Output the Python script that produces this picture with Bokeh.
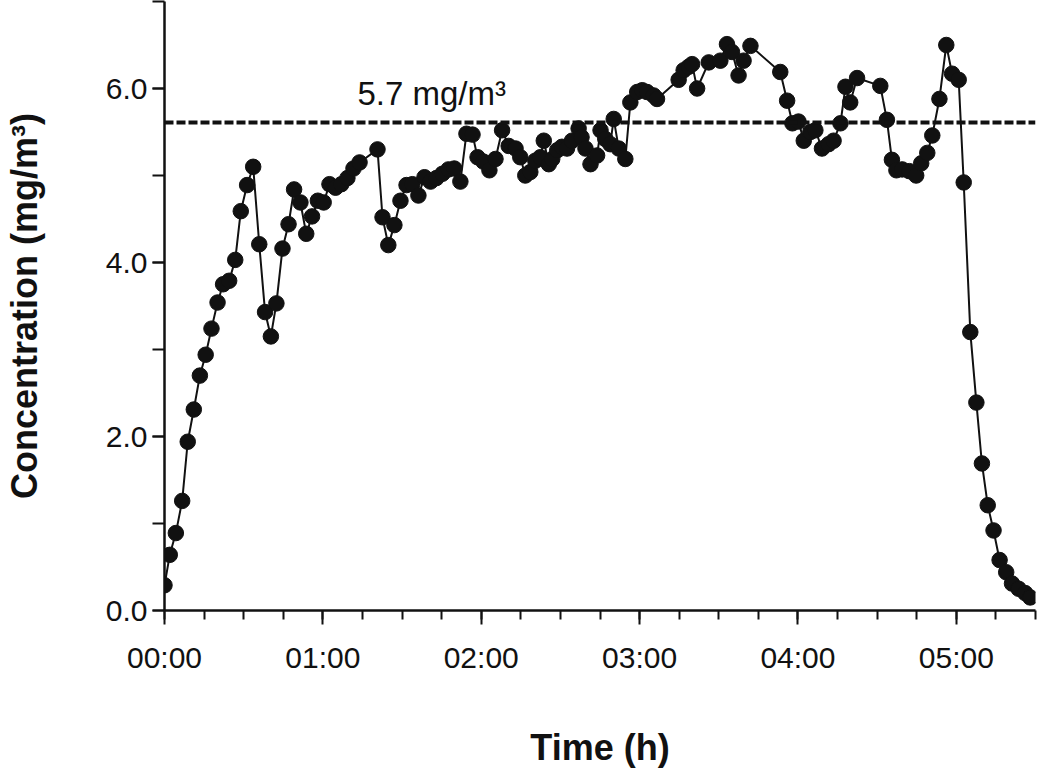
from bokeh.plotting import figure
from bokeh.models import FixedTicker, Range1d, Label, Span
from bokeh.embed import file_html
from bokeh.resources import INLINE

# Elapsed time (minutes) and concentration (mg/m3)
times_min = [
    0.0, 2.0, 4.3, 6.7, 8.8, 11.1, 13.4, 15.6, 17.8, 20.1, 22.2, 24.5, 26.8, 28.9,
    31.3, 33.6, 35.9, 38.1, 40.3, 42.4, 44.7, 47.0, 49.1, 51.5, 53.7, 55.9, 58.1,
    60.3, 62.5,
    64.8, 67.0, 69.3, 71.6, 73.9, 80.7, 82.6, 84.8, 87.1, 89.4, 91.7, 93.9, 96.2,
    98.5, 100.8, 103.0, 105.3, 107.6, 109.8, 112.1, 114.4, 116.7, 118.6, 120.8, 123.1,
    125.4, 127.9, 130.4, 133.0, 134.8, 136.7, 138.6, 140.5, 142.4, 143.7, 145.6,
    146.9, 148.8, 150.6, 152.5, 154.4, 156.9, 158.0, 159.5, 161.4, 163.9, 165.2,
    167.0, 168.9, 170.2, 172.1, 174.6, 176.5, 179.1, 181.0, 182.8, 185.3, 186.6,
    194.8, 196.7, 198.6, 199.9, 201.8, 206.2, 210.6, 213.1, 215.0, 217.5, 219.4,
    222.0, 233.3, 235.9, 237.9, 240.2, 242.2, 244.7, 246.6, 249.1, 251.6, 253.5,
    256.1, 258.0, 259.8, 262.4, 271.2, 273.7, 275.6, 277.3, 279.5, 282.2, 284.8,
    286.7, 289.0, 290.9, 293.6, 296.2, 298.4, 300.9, 302.8, 305.3, 307.6, 309.7,
    311.9, 314.1, 316.4, 318.9, 321.1, 323.6, 326.1, 328.0,
]
conc = [
    0.29, 0.64, 0.89, 1.26, 1.94, 2.31, 2.70, 2.94, 3.24, 3.54, 3.75, 3.79, 4.03, 4.59,
    4.89, 5.10, 4.21, 3.43, 3.15, 3.53, 4.16, 4.44, 4.84, 4.69, 4.33, 4.53, 4.71,
    4.69, 4.90,
    4.86, 4.90, 4.97, 5.08, 5.15, 5.30, 4.52, 4.20, 4.43, 4.71, 4.89, 4.90, 4.77,
    4.98, 4.93, 4.97, 5.02, 5.07, 5.08, 4.93, 5.48, 5.47, 5.21, 5.16, 5.06,
    5.19, 5.52, 5.34, 5.31, 5.21, 5.00, 5.04, 5.17, 5.21, 5.40, 5.13,
    5.19, 5.29, 5.33, 5.31, 5.40, 5.54, 5.44, 5.31, 5.13, 5.23, 5.52,
    5.42, 5.36, 5.65, 5.31, 5.19, 5.84, 5.96, 5.98, 5.96, 5.92, 5.88,
    6.10, 6.21, 6.25, 6.28, 6.00, 6.30, 6.32, 6.51, 6.42, 6.15, 6.32,
    6.49, 6.19, 5.86, 5.60, 5.62, 5.40, 5.50, 5.52, 5.31, 5.36, 5.40,
    5.60, 6.02, 5.84, 6.12, 6.03, 5.64, 5.18, 5.06, 5.07, 5.05, 5.00,
    5.14, 5.26, 5.46, 5.88, 6.50, 6.17, 6.10, 4.92, 3.20, 2.39, 1.69,
    1.21, 0.92, 0.58, 0.44, 0.31, 0.25, 0.20, 0.15,
]

x_major = [0, 60, 120, 180, 240, 300]
x_labels = ["00:00", "01:00", "02:00", "03:00", "04:00", "05:00"]
x_minor = list(range(0, 331, 15))
y_major = [0, 2, 4, 6]
y_minor = [0, 1, 2, 3, 4, 5, 6, 7]

limit_level = 5.61
limit_text = "5.7 mg/m³"

FONT = "Liberation Sans"
INK = "#111111"

p = figure(
    frame_width=871, frame_height=609,
    x_range=Range1d(0, 330), y_range=Range1d(0, 7.0),
    output_backend="svg", toolbar_location=None,
    min_border_left=160, min_border_top=1, min_border_right=8, min_border_bottom=10,
)
p.outline_line_color = None
p.grid.visible = False
p.background_fill_color = "white"

p.add_layout(Span(location=limit_level, dimension="width", line_color=INK,
                  line_width=4, line_dash="9 3"))

p.line(times_min, conc, line_color=INK, line_width=2)
p.scatter(times_min, conc, size=15.5, fill_color=INK, line_color=INK)

p.add_layout(Label(x=73.1, y=5.94, text=limit_text, text_font=FONT,
                   text_font_size="33px", text_color=INK,
                   text_align="left", text_baseline="alphabetic"))

xa = p.xaxis[0]
xa.ticker = FixedTicker(ticks=x_major, minor_ticks=x_minor)
xa.major_label_overrides = {t: l for t, l in zip(x_major, x_labels)}
xa.axis_label = "Time (h)"
xa.major_tick_out = 14
xa.major_tick_in = 0
xa.minor_tick_out = 9
xa.minor_tick_in = 0
xa.major_label_standoff = 16
xa.axis_label_standoff = 50

ya = p.yaxis[0]
ya.ticker = FixedTicker(ticks=y_major, minor_ticks=y_minor)
ya.major_label_overrides = {t: f"{t:.1f}" for t in y_major}
ya.axis_label = "Concentration (mg/m³)"
ya.major_tick_out = 12
ya.major_tick_in = 0
ya.minor_tick_out = 12
ya.minor_tick_in = 0
ya.major_label_standoff = 5
ya.axis_label_standoff = 58

for ax in (xa, ya):
    ax.axis_line_width = 2.5
    ax.axis_line_color = INK
    ax.major_tick_line_width = 2
    ax.minor_tick_line_width = 2
    ax.major_tick_line_color = INK
    ax.minor_tick_line_color = INK
    ax.major_label_text_font = FONT
    ax.major_label_text_font_size = "30px"
    ax.major_label_text_color = INK
    ax.axis_label_text_font = FONT
    ax.axis_label_text_font_size = "36px"
    ax.axis_label_text_font_style = "bold"
    ax.axis_label_text_color = INK

open("out.html", "w").write(file_html(p, INLINE))
